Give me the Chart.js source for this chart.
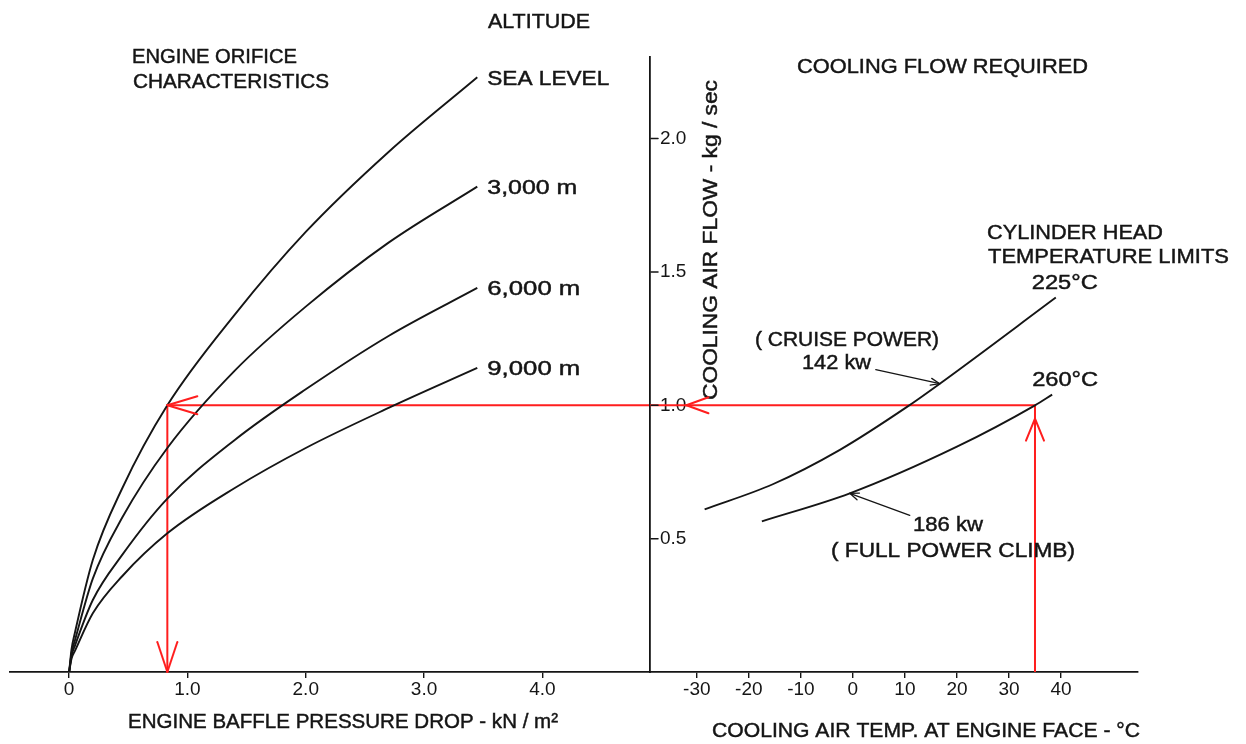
<!DOCTYPE html>
<html><head><meta charset="utf-8">
<script src="https://cdn.jsdelivr.net/npm/chart.js@4/dist/chart.umd.min.js"></script>
<style>
html,body{margin:0;padding:0;background:#fff;}
#wrap{position:relative;width:1246px;height:744px;overflow:hidden;}
canvas{position:absolute;left:0;top:0;}
</style></head><body>
<div id="wrap"><canvas id="leftC" width="1246" height="744"></canvas><canvas id="rightC" width="1246" height="744"></canvas></div>
<script>
// ---------------- DATA ----------------
// Left panel: engine orifice characteristics (cooling air flow vs baffle pressure drop)
const pressureDrop = [0, 0.02, 0.05, 0.2, 0.45, 0.83, 1.4, 2.0, 2.7, 3.45];
const flowSeaLevel = [0, 0.085, 0.15, 0.42, 0.69, 1.0, 1.34, 1.65, 1.95, 2.23];
const flow3000m    = [0, 0.07, 0.12, 0.35, 0.58, 0.84, 1.13, 1.37, 1.61, 1.82];
const flow6000m    = [0, 0.06, 0.10, 0.27, 0.44, 0.65, 0.87, 1.06, 1.26, 1.44];
const flow9000m    = [0, 0.05, 0.08, 0.22, 0.36, 0.52, 0.69, 0.84, 0.99, 1.14];
const altitudeLabels = ['SEA LEVEL', '3,000 m', '6,000 m', '9,000 m'];

// Right panel: cooling flow required vs cooling air temperature
const cruiseTemp = [-28.5, -15.4, -2.5, 10.4, 16.7, 39.0];
const cruiseFlow = [0.61, 0.704, 0.833, 0.994, 1.081, 1.404];
const climbTemp  = [-17.5, -0.6, 20.0, 35.0, 38.3];
const climbFlow  = [0.565, 0.67, 0.845, 1.0, 1.04];

// Worked example (red path)
const exampleTemp = 35;
const exampleFlow = 1.0;
const examplePressure = 0.83;

// Ticks
const pressureTicks = [0, 1, 2, 3, 4];
const pressureTickLabels = ['0', '1.0', '2.0', '3.0', '4.0'];
const tempTicks = [-30, -20, -10, 0, 10, 20, 30, 40];
const tempTickLabels = ['-30', '-20', '-10', '0', '10', '20', '30', '40'];
const flowTicks = [0.5, 1.0, 1.5, 2.0];
const flowTickLabels = ['0.5', '1.0', '1.5', '2.0'];

// ---------------- LAYOUT / STYLE ----------------
const FONT = '"Liberation Sans", Arial, sans-serif';
const INK = '#151515';
const RED = '#ff1e1e';
const P_MIN = -0.5, P_MAX = 4.91;
const T_MIN = -39, T_MAX = 54.8;
const F_MIN = 0, F_MAX = 2.306;
const TXT = 20;

function pts(xs, ys) { return xs.map((x, i) => ({x, y: ys[i]})); }

function txt(ctx, text, x, y, w, size, rot) {
  ctx.save();
  ctx.font = size + 'px ' + FONT;
  const m = ctx.measureText(text).width;
  ctx.translate(x, y);
  if (rot) ctx.rotate(rot);
  ctx.scale(w / m, 1);
  ctx.textBaseline = 'middle';
  ctx.textAlign = 'left';
  ctx.fillStyle = INK;
  ctx.strokeStyle = INK;
  ctx.lineWidth = 0.45;
  ctx.fillText(text, 0, 0);
  ctx.strokeText(text, 0, 0);
  ctx.restore();
}
function seg(ctx, x1, y1, x2, y2, color, lw) {
  ctx.save();
  ctx.strokeStyle = color; ctx.lineWidth = lw; ctx.lineCap = 'round';
  ctx.beginPath(); ctx.moveTo(x1, y1); ctx.lineTo(x2, y2); ctx.stroke();
  ctx.restore();
}
// open arrowhead: tip, pointing direction (dx,dy unit), arm length, half width
function head(ctx, tx, ty, dx, dy, len, half, color, lw) {
  const bx = tx - dx * len, by = ty - dy * len;
  const nx = -dy, ny = dx;
  seg(ctx, tx, ty, bx + nx * half, by + ny * half, color, lw);
  seg(ctx, tx, ty, bx - nx * half, by - ny * half, color, lw);
}

const curveStyle = {borderColor: INK, borderWidth: 1.9, pointRadius: 0, cubicInterpolationMode: 'monotone', fill: false};
const redStyle = {borderColor: RED, borderWidth: 2, pointRadius: 0, tension: 0, fill: false};

const tickFont = {family: FONT, size: 19};
function xAxis(min, max, ticks, labels) {
  return {
    type: 'linear', min, max,
    afterBuildTicks: s => { s.ticks = ticks.map(v => ({value: v})); },
    ticks: {callback: (v, i) => labels[i], font: tickFont, color: INK, padding: 0, maxRotation: 0, autoSkip: false},
    grid: {display: true, drawOnChartArea: false, drawTicks: true, tickLength: 6, color: INK, lineWidth: 1.4},
    border: {display: true, color: INK, width: 1.8},
    afterFit: s => { s.height = 72; }
  };
}
const common = {
  responsive: false, animation: false, events: [],
  plugins: {legend: {display: false}, tooltip: {enabled: false}}
};

// ---------------- LEFT CHART ----------------
const altitudeSeries = [flowSeaLevel, flow3000m, flow6000m, flow9000m];
const altitudeLabelWidths = [122, 90, 93, 93];
const leftNotes = {
  id: 'leftNotes',
  afterDatasetsDraw(chart) {
    const {ctx, scales: {x, y}} = chart;
    txt(ctx, 'ALTITUDE', 488, 22, 102, TXT);
    txt(ctx, 'ENGINE ORIFICE', 132, 57, 165, TXT);
    txt(ctx, 'CHARACTERISTICS', 133, 82, 196, TXT);
    txt(ctx, 'ENGINE BAFFLE PRESSURE DROP - kN / m²', 128, 722, 430, TXT);
    altitudeSeries.forEach((s, i) => {
      const last = s.length - 1;
      const px = x.getPixelForValue(pressureDrop[last]);
      const py = y.getPixelForValue(s[last]);
      txt(ctx, altitudeLabels[i], px + 10, py + 2, altitudeLabelWidths[i], TXT);
    });
    const ex = x.getPixelForValue(examplePressure);
    const ey = y.getPixelForValue(exampleFlow);
    head(ctx, ex, ey, -1, 0, 30, 9, RED, 2);
    head(ctx, ex, y.getPixelForValue(0), 0, 1, 30, 10, RED, 2);
  }
};
new Chart(document.getElementById('leftC'), {
  type: 'line',
  data: {datasets: [
    {...curveStyle, data: pts(pressureDrop, flowSeaLevel)},
    {...curveStyle, data: pts(pressureDrop, flow3000m)},
    {...curveStyle, data: pts(pressureDrop, flow6000m)},
    {...curveStyle, data: pts(pressureDrop, flow9000m)},
    {...redStyle, data: [{x: examplePressure, y: 0}, {x: examplePressure, y: exampleFlow}, {x: P_MAX, y: exampleFlow}]}
  ]},
  options: {...common,
    layout: {padding: {left: 10, right: 1246 - 650, top: 57, bottom: 0}},
    scales: {
      x: xAxis(P_MIN, P_MAX, pressureTicks, pressureTickLabels),
      y: {type: 'linear', min: F_MIN, max: F_MAX, display: false}
    }
  },
  plugins: [leftNotes]
});

// ---------------- RIGHT CHART ----------------
const rightNotes = {
  id: 'rightNotes',
  afterDatasetsDraw(chart) {
    const {ctx, scales: {x, y}} = chart;
    flowTicks.forEach(v => { const py = y.getPixelForValue(v); seg(ctx, 651, py, 658, py, INK, 1.5); });
    txt(ctx, 'COOLING AIR FLOW - kg / sec', 711, 400, 320, TXT, -Math.PI / 2);
    txt(ctx, 'COOLING FLOW REQUIRED', 797, 67, 291, TXT);
    txt(ctx, 'CYLINDER HEAD', 987, 233, 176, TXT);
    txt(ctx, 'TEMPERATURE LIMITS', 988, 257, 241, TXT);
    txt(ctx, '( CRUISE POWER)', 755, 340, 184, TXT);
    txt(ctx, '142 kw', 802, 363, 69, TXT);
    txt(ctx, '186 kw', 913, 525, 70, TXT);
    txt(ctx, '( FULL POWER CLIMB)', 831, 551, 244, TXT);
    txt(ctx, 'COOLING AIR TEMP. AT ENGINE FACE - °C', 712, 731, 428, TXT);
    const c = cruiseTemp.length - 1, k = climbTemp.length - 1;
    txt(ctx, '225°C', x.getPixelForValue(cruiseTemp[c]) - 24, y.getPixelForValue(cruiseFlow[c]) - 14, 66, TXT);
    txt(ctx, '260°C', x.getPixelForValue(climbTemp[k]) - 20, y.getPixelForValue(climbFlow[k]) - 14, 66, TXT);
    const t1x = x.getPixelForValue(cruiseTemp[4]), t1y = y.getPixelForValue(cruiseFlow[4]);
    seg(ctx, t1x - 64, t1y - 14, t1x, t1y, INK, 1.3);
    let d = Math.hypot(64, 14); head(ctx, t1x, t1y, 64 / d, 14 / d, 9, 3.5, INK, 1.3);
    const t2x = x.getPixelForValue(climbTemp[1]), t2y = y.getPixelForValue(climbFlow[1]);
    seg(ctx, t2x + 60, t2y + 22, t2x, t2y, INK, 1.3);
    d = Math.hypot(60, 22); head(ctx, t2x, t2y, -60 / d, -22 / d, 9, 3.5, INK, 1.3);
    const ey = y.getPixelForValue(exampleFlow);
    head(ctx, x.getPixelForValue(-32), ey, -1, 0, 22, 8, RED, 2);
    head(ctx, x.getPixelForValue(exampleTemp), y.getPixelForValue(0.95), 0, -1, 22, 9, RED, 2);
  }
};
new Chart(document.getElementById('rightC'), {
  type: 'line',
  data: {datasets: [
    {...curveStyle, data: pts(cruiseTemp, cruiseFlow)},
    {...curveStyle, data: pts(climbTemp, climbFlow)},
    {...redStyle, data: [{x: T_MIN, y: exampleFlow}, {x: exampleTemp, y: exampleFlow}, {x: exampleTemp, y: 0}]}
  ]},
  options: {...common,
    layout: {padding: {left: 640, right: 1246 - 1138, top: 57, bottom: 0}},
    scales: {
      x: xAxis(T_MIN, T_MAX, tempTicks, tempTickLabels),
      y: {
        type: 'linear', min: F_MIN, max: F_MAX, position: 'left',
        afterBuildTicks: s => { s.ticks = flowTicks.map(v => ({value: v})); },
        ticks: {mirror: true, padding: 10, callback: (v, i) => flowTickLabels[i], font: tickFont, color: INK},
        grid: {display: true, drawOnChartArea: false, drawTicks: false},
        border: {display: true, color: INK, width: 1.8},
        afterFit: s => { s.width = 10; }
      }
    }
  },
  plugins: [rightNotes]
});
</script>
</body></html>
